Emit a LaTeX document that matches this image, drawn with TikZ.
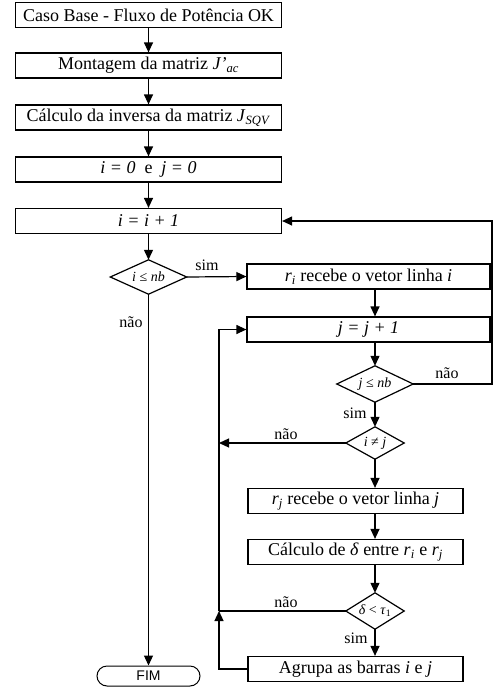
\documentclass[tikz,border=0pt]{standalone}
\usepackage{fontspec}
\setmainfont{Liberation Serif}
\newfontfamily\arialf{Liberation Sans}
\usetikzlibrary{arrows.meta}
\begin{document}
\begin{tikzpicture}[x=1pt,y=-1pt,
  box/.style={draw, line width=1.2pt, minimum height=25pt, inner sep=0pt, font=\fontsize{18}{20}\selectfont},
  ubox/.style={box, minimum width=266pt},
  rbox/.style={box, minimum width=243pt},
  lbox/.style={box, minimum width=215pt},
  dec/.style={rectangle, inner sep=0pt, font=\fontsize{14}{16}\selectfont},
  lab/.style={font=\fontsize{16}{18}\selectfont, inner sep=0pt},
  arr/.style={line width=1.2pt, -{Triangle[length=10pt,width=9pt]}},
  ln/.style={line width=1.2pt}]
\useasboundingbox (0,0) rectangle (493,688);
% upper column
\node[ubox] (b1) at (148.5,15) {Caso Base - Fluxo de Potência OK};
\node[ubox] (b2) at (148.5,65.5) {Montagem da matriz \textit{J’}\textsubscript{\textit{ac}}};
\node[ubox] (b3) at (148.5,117.5) {Cálculo da inversa da matriz \textit{J}\textsubscript{\textit{SQV}}};
\node[ubox] (b4) at (148.5,169.5) {\textit{i = 0}\ \ e\ \ \textit{j = 0}};
\node[ubox] (b5) at (148.5,221) {\textit{i = i + 1}};
\node[dec, minimum width=76pt, minimum height=34pt] (d1) at (148.5,277) {\textit{i} ≤ \textit{nb}};
\node[draw, line width=1pt, rounded corners=10pt, minimum width=103pt, minimum height=20pt, inner sep=0pt, font=\arialf\fontsize{14}{16}\selectfont] (fim) at (148.5,676) {FIM};
% right column
\node[rbox] (b6) at (368.5,276.5) {\textit{r}\textsubscript{\textit{i}} recebe o vetor linha \textit{i}};
\node[rbox] (b7) at (368.5,329.5) {\textit{j = j + 1}};
\node[dec, minimum width=76pt, minimum height=36pt] (d2) at (375,384) {\textit{j} ≤ \textit{nb}};
\node[dec, minimum width=58pt, minimum height=32pt] (d3) at (375,443) {\textit{i} ≠ \textit{j}};
\node[lbox] (b8) at (355.5,501) {\textit{r}\textsubscript{\textit{j}} recebe o vetor linha \textit{j}};
\node[lbox] (b9) at (355.5,552) {Cálculo de \textit{δ} entre \textit{r}\textsubscript{\textit{i}} e \textit{r}\textsubscript{\textit{j}}};
\node[dec, minimum width=58pt, minimum height=36pt] (d4) at (375,611) {\textit{δ} < \textit{τ}\textsubscript{1}};
\node[lbox] (b10) at (355.5,669) {Agrupa as barras \textit{i} e \textit{j}};
\foreach \d in {d1,d2,d3,d4}
  \draw[ln] (\d.north) -- (\d.east) -- (\d.south) -- (\d.west) -- cycle;
\coordinate (L) at (219,0);
\coordinate (R) at (492,0);
% connectors
\draw[arr] (b1) -- (b2);
\draw[arr] (b2) -- (b3);
\draw[arr] (b3) -- (b4);
\draw[arr] (b4) -- (b5);
\draw[arr] (b5) -- (d1.north);
\draw[arr] (d1.east) -- (b6.west);
\draw[arr] (d1.south) -- (fim.north);
\draw[arr] (b6.south -| d2.north) -- (b7.north -| d2.north);
\draw[arr] (b7.south -| d2.north) -- (d2.north);
\draw[arr] (d2.east) -- (d2.east -| R) -- (b5.east -| R) -- (b5.east);
\draw[arr] (d2.south) -- (d3.north);
\draw[arr] (d3.west) -- (d3.west -| L);
\draw[arr] (d3.south) -- (b8.north -| d3.south);
\draw[arr] (b8.south -| d3.south) -- (b9.north -| d3.south);
\draw[arr] (b9.south -| d4.north) -- (d4.north);
\draw[arr] (d4.south) -- (b10.north -| d4.south);
\draw[ln] (d4.west) -- (d4.west -| L);
\draw[arr] (b10.west) -| (d4.west -| L);
\draw[arr] (d4.west -| L) -- (b7.west -| L) -- (b7.west);
% labels
\node[lab] at (207,265) {sim};
\node[lab] at (131,322) {não};
\node[lab] at (447,373) {não};
\node[lab] at (355,413) {sim};
\node[lab] at (286,434) {não};
\node[lab] at (286,602) {não};
\node[lab] at (356,638) {sim};
\end{tikzpicture}
\end{document}
